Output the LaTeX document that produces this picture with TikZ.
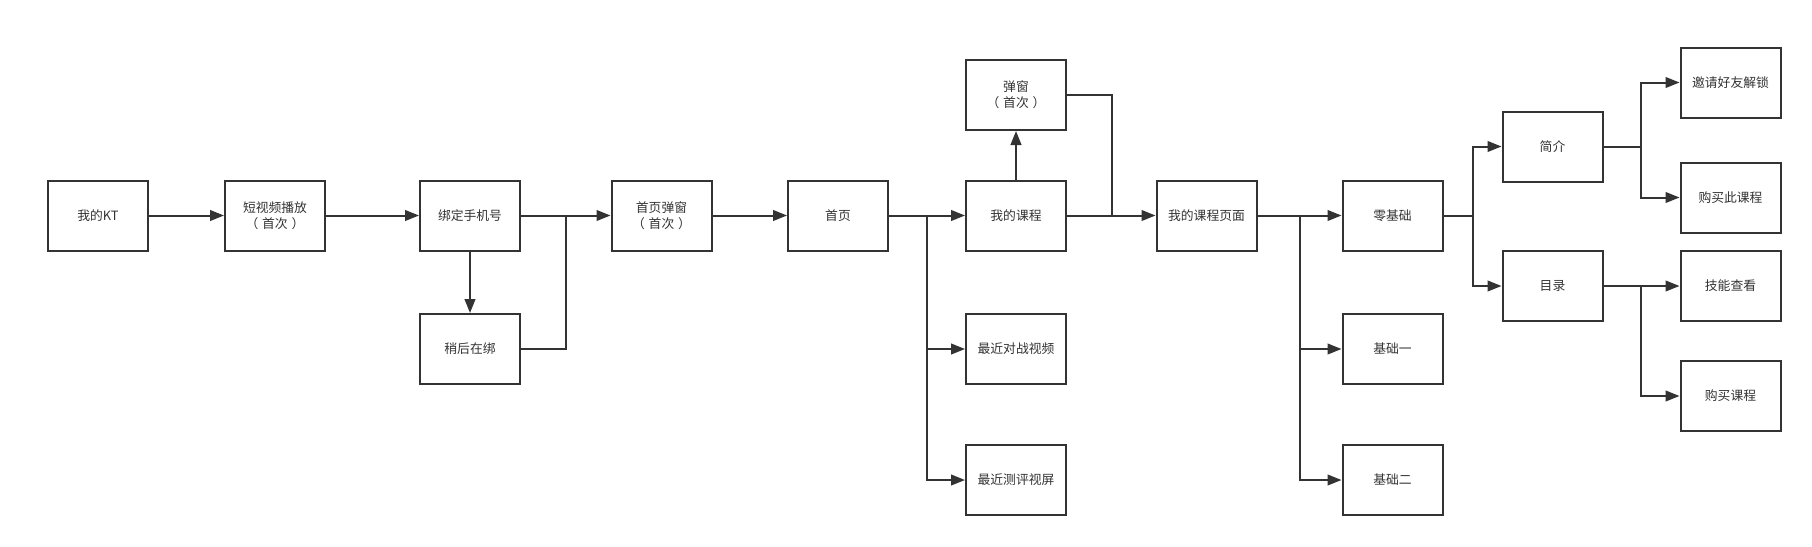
\documentclass[tikz,border=0pt]{standalone}
\usepackage{fontspec}
\setmainfont{Noto Sans CJK SC}
\usetikzlibrary{arrows.meta}
\definecolor{ln}{HTML}{333333}
\newcommand{\shouci}{（\hspace{0.3em}首次\hspace{0.3em}）}
\tikzset{
  box/.style={draw=ln, line width=1.5pt, minimum width=75pt, minimum height=52.5pt,
    inner sep=0pt, align=center, font=\fontsize{9.6}{12}\selectfont, text=ln},
  conn/.style={draw=ln, line width=1.5pt},
  arr/.style={conn, -{Triangle[length=10.5pt,width=8pt]}}
}
\begin{document}
\begin{tikzpicture}[x=0.75pt,y=-0.75pt]
\useasboundingbox (0,0) rectangle (1812,546);
\node[box] (kt) at (98,215.5) {我的KT};
\node[box] (dsp) at (275,215.5) {短视频播放\\\shouci};
\node[box] (bd) at (470,215.5) {绑定手机号};
\node[box] (shhz) at (470,349) {稍后在绑};
\node[box] (sytc) at (661.5,215.5) {首页弹窗\\\shouci};
\node[box] (home) at (838,215.5) {首页};
\node[box] (wdkc) at (1016,215.5) {我的课程};
\node[box] (tc) at (1016,95) {弹窗\\\shouci};
\node[box] (zjdz) at (1016,349) {最近对战视频};
\node[box] (zjcp) at (1016,480) {最近测评视屏};
\node[box] (page) at (1206.5,215.5) {我的课程页面};
\node[box] (ljc) at (1392.5,215.5) {零基础};
\node[box] (jc1) at (1392.5,349) {基础一};
\node[box] (jc2) at (1392.5,480) {基础二};
\node[box] (jj) at (1552.5,146.5) {简介};
\node[box] (ml) at (1552.5,286) {目录};
\node[box] (yq) at (1730.5,82.5) {邀请好友解锁};
\node[box] (gmc) at (1730.5,197.5) {购买此课程};
\node[box] (jn) at (1730.5,286) {技能查看};
\node[box] (gm) at (1730.5,396) {购买课程};
\coordinate (j1) at (566,215.5);
\coordinate (j2) at (927,215.5);
\coordinate (j3) at (1111.5,215.5);
\coordinate (j4) at (1300,215.5);
\coordinate (j5) at (1473,215.5);
\coordinate (j6) at (1641,146.5);
\coordinate (j7) at (1641,286);
\draw[arr] (kt) -- (dsp);
\draw[arr] (dsp) -- (bd);
\draw[arr] (bd) -- (sytc);
\draw[arr] (bd) -- (shhz);
\draw[conn] (shhz.east) -| (j1);
\draw[arr] (sytc) -- (home);
\draw[arr] (home) -- (wdkc);
\draw[arr] (j2) |- (zjdz.west);
\draw[arr] (j2) |- (zjcp.west);
\draw[arr] (wdkc) -- (tc);
\draw[arr] (wdkc) -- (page);
\draw[conn] (tc.east) -| (j3);
\draw[arr] (page) -- (ljc);
\draw[arr] (j4) |- (jc1.west);
\draw[arr] (j4) |- (jc2.west);
\draw[conn] (ljc.east) -- (j5);
\draw[arr] (j5) |- (jj.west);
\draw[arr] (j5) |- (ml.west);
\draw[conn] (jj.east) -- (j6);
\draw[arr] (j6) |- (yq.west);
\draw[arr] (j6) |- (gmc.west);
\draw[arr] (ml) -- (jn);
\draw[arr] (j7) |- (gm.west);
\end{tikzpicture}
\end{document}
